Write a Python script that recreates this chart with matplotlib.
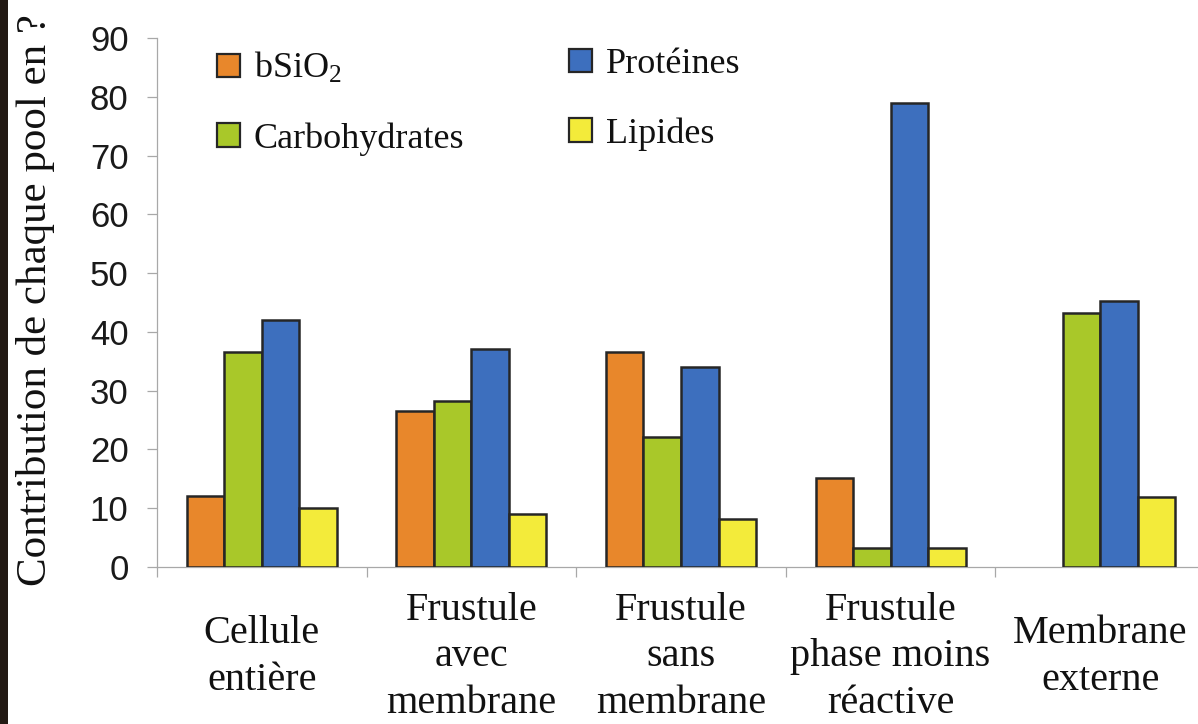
import matplotlib
matplotlib.use("Agg")
import matplotlib.pyplot as plt
import numpy as np
from matplotlib.patches import Rectangle

categories = ["Cellule\nentière", "Frustule\navec\nmembrane", "Frustule\nsans\nmembrane",
              "Frustule\nphase moins\nréactive", "Membrane\nexterne"]
series_names = [r"bSiO$\mathregular{_2}$", "Carbohydrates", "Protéines", "Lipides"]
bsio2 = [12.0, 26.5, 36.6, 15.1, 0.0]
carbohydrates = [36.6, 28.2, 22.1, 3.1, 43.2]
proteines = [42.0, 37.0, 34.0, 79.0, 45.3]
lipides = [10.0, 8.9, 8.2, 3.1, 11.9]
yticks = [0, 10, 20, 30, 40, 50, 60, 70, 80, 90]
ylabel = "Contribution de chaque pool en ?"

colors = ["#E8872B", "#A9C829", "#3D6FBE", "#F3EB3A"]
serif = ["Liberation Serif", "DejaVu Serif"]
sans = ["Liberation Sans", "DejaVu Sans"]

plt.rcParams["font.family"] = serif

W, H = 1198, 724
fig = plt.figure(figsize=(W / 100, H / 100), dpi=100)
fig.patch.set_facecolor("white")
fig.patches.append(Rectangle((0, 0), 8 / W, 1, transform=fig.transFigure,
                             facecolor="#231a14", edgecolor="none", zorder=0))

x0, x1 = 157, 1205
y0, y1 = 566.7, 38.3
ax = fig.add_axes([x0 / W, (H - y0) / H, (x1 - x0) / W, (y0 - y1) / H])
ax.set_facecolor("white")

x = np.arange(len(categories))
w = 0.179
data = [bsio2, carbohydrates, proteines, lipides]
handles = []
for i, (vals, c, name) in enumerate(zip(data, colors, series_names)):
    lws = [1.8 if v > 0 else 0.0 for v in vals]
    b = ax.bar(x + (i - 1.5) * w, vals, width=w, color=c, edgecolor="#262626",
               linewidth=lws, label=name, zorder=3)
    handles.append(b)

ax.set_xlim(-0.5, len(categories) - 0.5)
ax.set_ylim(0, 90)
ax.set_yticks(yticks)
ax.set_yticklabels([str(v) for v in yticks], family=sans, fontsize=25, color="#1a1a1a")

ax.set_xticks(x)
ax.set_xticklabels(categories, fontsize=29, color="#111111", multialignment="center",
                   linespacing=1.34)
for lab in ax.get_xticklabels():
    lab.set_va("center")
ax.set_xticks(np.arange(-0.5, len(categories), 1.0), minor=True)
ax.tick_params(axis="x", which="major", length=0, pad=65)
ax.tick_params(axis="x", which="minor", length=7.5, width=0.9, color="#a8a8a8", direction="out")
ax.tick_params(axis="y", which="major", length=7.5, width=0.9, color="#a8a8a8",
               direction="out", pad=13)

for s in ["top", "right"]:
    ax.spines[s].set_visible(False)
for s in ["left", "bottom"]:
    ax.spines[s].set_color("#a8a8a8")
    ax.spines[s].set_linewidth(0.9)

fig.text(36 / W, 1 - 300 / H, ylabel, rotation=90, ha="center", va="center",
         fontsize=31, color="#111111")

leg_kw = dict(frameon=False, fontsize=26, handlelength=0.64, handleheight=0.62,
              handletextpad=0.38, labelspacing=1.0, borderaxespad=0, borderpad=0,
              labelcolor="#111111")
leg1 = ax.legend([handles[0], handles[1]], [series_names[0], series_names[1]],
                 loc="upper left", bbox_to_anchor=(217 / W, 1 - 51 / H),
                 bbox_transform=fig.transFigure, **leg_kw)
ax.add_artist(leg1)
leg2 = ax.legend([handles[2], handles[3]], [series_names[2], series_names[3]],
                 loc="upper left", bbox_to_anchor=(569 / W, 1 - 48 / H),
                 bbox_transform=fig.transFigure, **leg_kw)
for leg in (leg1, leg2):
    for p in leg.get_patches():
        p.set_linewidth(1.6)

fig.savefig("out.png", dpi=100, facecolor="white")
